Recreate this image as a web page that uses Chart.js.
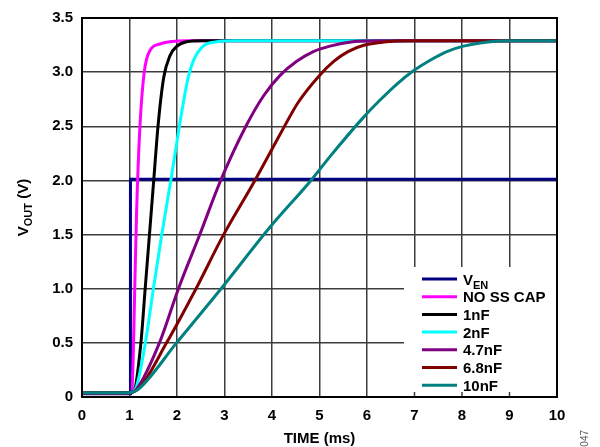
<!DOCTYPE html>
<html>
<head>
<meta charset="utf-8">
<script src="https://cdn.jsdelivr.net/npm/chart.js@4.4.0/dist/chart.umd.min.js"></script>
<style>
    html, body { margin: 0; padding: 0; background: #fff; }
</style>
</head>
<body>
<canvas id="soft-start-chart" width="600" height="447"></canvas>
<script>
// Ticks dos eixos
var timeTicks = [0, 1, 2, 3, 4, 5, 6, 7, 8, 9, 10];
var voltTicks = [0, 0.5, 1.0, 1.5, 2.0, 2.5, 3.0, 3.5];

var venTime = [0, 1.02, 1.02, 10];
var venVolt = [0.03, 0.03, 2.01, 2.01];

var noCapTime = [0, 1.0, 1.05, 1.08, 1.11, 1.15, 1.22, 1.31, 1.43, 1.64, 1.85, 2.2, 10];
var noCapVolt = [0.04, 0.04, 0.05, 0.4, 1.0, 1.72, 2.5, 3.0, 3.2, 3.26, 3.28, 3.29, 3.29];

var cap1Time = [0, 1.0, 1.1, 1.24, 1.33, 1.42, 1.51, 1.6, 1.72, 1.85, 2.0, 2.2, 2.5, 10];
var cap1Volt = [0.04, 0.04, 0.06, 0.5, 1.0, 1.5, 2.0, 2.5, 2.95, 3.15, 3.24, 3.28, 3.29, 3.29];

var cap2Time = [0, 1.0, 1.12, 1.33, 1.5, 1.68, 1.87, 2.05, 2.22, 2.34, 2.55, 2.84, 3.2, 10];
var cap2Volt = [0.04, 0.04, 0.07, 0.49, 0.99, 1.5, 2.0, 2.5, 2.92, 3.1, 3.24, 3.28, 3.29, 3.29];

var cap47Time = [0, 1.0, 1.16, 1.63, 2.03, 2.48, 2.92, 3.45, 3.82, 4.17, 4.52, 4.87, 5.22, 5.7, 6.2, 10];
var cap47Volt = [0.04, 0.04, 0.08, 0.5, 1.0, 1.5, 2.0, 2.5, 2.78, 2.97, 3.1, 3.19, 3.24, 3.28, 3.29, 3.29];

var cap68Time = [0, 1.0, 1.2, 1.78, 2.4, 2.97, 3.64, 4.2, 4.55, 5.0, 5.3, 5.6, 5.95, 6.4, 6.9, 10];
var cap68Volt = [0.04, 0.04, 0.08, 0.5, 1.0, 1.49, 2.0, 2.45, 2.72, 2.97, 3.1, 3.19, 3.25, 3.28, 3.29, 3.29];

var cap10Time = [0, 1.0, 1.18, 1.99, 2.91, 3.96, 4.82, 5.22, 5.92, 6.27, 6.63, 6.97, 7.33, 7.68, 8.03, 8.38, 9.0, 10];
var cap10Volt = [0.04, 0.04, 0.07, 0.5, 0.99, 1.57, 2.0, 2.22, 2.58, 2.74, 2.89, 3.01, 3.11, 3.19, 3.24, 3.27, 3.29, 3.29];

var seriesLabels = ['V_EN', 'NO SS CAP', '1nF', '2nF', '4.7nF', '6.8nF', '10nF'];
var seriesColors = ['#000080', '#ff00ff', '#000000', '#00ffff', '#800080', '#800000', '#008080'];

var FONT = '"Liberation Sans", Arial, sans-serif';

/**
 * Junta tempo e tensao em pontos {x, y}
 */
function toPoints(times, volts) {
    return times.map(function(t, i) {
        return { x: t, y: volts[i] };
    });
}

/**
 * Escreve texto com subscrito (parte depois do "_")
 */
function drawSubText(ctx, text, x, y, size) {
    var parts = text.split('_');
    ctx.textBaseline = 'alphabetic';
    ctx.textAlign = 'left';
    ctx.font = 'bold ' + size + 'px ' + FONT;
    ctx.fillText(parts[0], x, y);
    var w = ctx.measureText(parts[0]).width;
    if (parts.length > 1) {
        var sub = parts[1].split(' ');
        ctx.font = 'bold ' + Math.round(size * 0.7) + 'px ' + FONT;
        ctx.fillText(sub[0], x + w, y + 4);
        w += ctx.measureText(sub[0]).width;
        if (sub.length > 1) {
            ctx.font = 'bold ' + size + 'px ' + FONT;
            var rest = ' ' + sub.slice(1).join(' ');
            ctx.fillText(rest, x + w, y);
            w += ctx.measureText(rest).width;
        }
    }
    return w;
}

function measureSubText(ctx, text, size) {
    ctx.save();
    ctx.globalAlpha = 0;
    var w = drawSubText(ctx, text, 0, 0, size);
    ctx.restore();
    return w;
}

// Legenda, moldura e titulos desenhados a mao
var decorPlugin = {
    id: 'decor',
    afterDraw: function(chart) {
        var ctx = chart.ctx,
            area = chart.chartArea,
            xScale = chart.scales.x;

        // caixa da legenda
        var boxL = area.right - 153,
            boxT = area.bottom - 130;
        ctx.save();
        ctx.fillStyle = '#ffffff';
        ctx.fillRect(boxL, boxT, area.right - boxL, area.bottom - boxT);

        // pequenos ticks do eixo X dentro da legenda
        ctx.strokeStyle = '#3c3c3c';
        ctx.lineWidth = 1.5;
        timeTicks.forEach(function(t) {
            var px = xScale.getPixelForValue(t);
            if (px > boxL && px < area.right) {
                ctx.beginPath();
                ctx.moveTo(px, area.bottom);
                ctx.lineTo(px, area.bottom - 5);
                ctx.stroke();
            }
        });

        seriesLabels.forEach(function(label, i) {
            var cy = boxT + 12 + i * 17.7;
            ctx.strokeStyle = seriesColors[i];
            ctx.lineWidth = 3;
            ctx.beginPath();
            ctx.moveTo(boxL + 18, cy);
            ctx.lineTo(boxL + 53, cy);
            ctx.stroke();
            ctx.fillStyle = '#000';
            drawSubText(ctx, label, boxL + 59, cy + 5.5, 15);
        });

        // moldura
        ctx.strokeStyle = '#000';
        ctx.lineWidth = 2;
        ctx.strokeRect(area.left, area.top, area.right - area.left, area.bottom - area.top);

        // titulo do eixo X
        ctx.fillStyle = '#000';
        ctx.font = 'bold 15px ' + FONT;
        ctx.textAlign = 'center';
        ctx.textBaseline = 'alphabetic';
        ctx.fillText('TIME (ms)', (area.left + area.right) / 2, 443);

        // titulo do eixo Y (rotacionado)
        var yTitle = 'V_OUT (V)';
        var tw = measureSubText(ctx, yTitle, 15);
        ctx.translate(28, (area.top + area.bottom) / 2);
        ctx.rotate(-Math.PI / 2);
        drawSubText(ctx, yTitle, -tw / 2, 0, 15);
        ctx.restore();

        // codigo da figura, cortado na borda
        ctx.save();
        ctx.fillStyle = '#555';
        ctx.font = '10px ' + FONT;
        ctx.translate(588, 430);
        ctx.rotate(-Math.PI / 2);
        ctx.textAlign = 'right';
        ctx.textBaseline = 'alphabetic';
        ctx.fillText('-047', 0, 0);
        ctx.restore();
    }
};

var seriesData = [
    toPoints(venTime, venVolt),
    toPoints(noCapTime, noCapVolt),
    toPoints(cap1Time, cap1Volt),
    toPoints(cap2Time, cap2Volt),
    toPoints(cap47Time, cap47Volt),
    toPoints(cap68Time, cap68Volt),
    toPoints(cap10Time, cap10Volt)
];

var datasets = seriesData.map(function(points, i) {
    return {
        label: seriesLabels[i],
        data: points,
        borderColor: seriesColors[i],
        borderWidth: 3,
        pointRadius: 0,
        fill: false,
        tension: 0,
        cubicInterpolationMode: i === 0 ? 'default' : 'monotone',
        order: seriesData.length - i
    };
});

var chart = new Chart(document.getElementById('soft-start-chart'), {
    type: 'line',
    data: { datasets: datasets },
    options: {
        responsive: false,
        animation: false,
        devicePixelRatio: 1,
        layout: { padding: { top: 17, right: 43, left: 0, bottom: 0 } },
        plugins: {
            legend: { display: false },
            tooltip: { enabled: false }
        },
        scales: {
            x: {
                type: 'linear',
                min: 0,
                max: 10,
                afterBuildTicks: function(scale) {
                    scale.ticks = timeTicks.map(function(v) { return { value: v }; });
                },
                afterFit: function(scale) { scale.height = 50; },
                grid: { color: '#3c3c3c', lineWidth: 1.5, drawTicks: false },
                border: { color: '#000', width: 2 },
                ticks: {
                    padding: 10,
                    maxRotation: 0,
                    color: '#000',
                    font: { family: FONT, size: 15, weight: 'bold' },
                    callback: function(v) { return String(v); }
                }
            },
            y: {
                min: 0,
                max: 3.5,
                afterBuildTicks: function(scale) {
                    scale.ticks = voltTicks.map(function(v) { return { value: v }; });
                },
                afterFit: function(scale) { scale.width = 82; },
                grid: { color: '#3c3c3c', lineWidth: 1.5, drawTicks: false },
                border: { color: '#000', width: 2 },
                ticks: {
                    padding: 9,
                    color: '#000',
                    font: { family: FONT, size: 15, weight: 'bold' },
                    callback: function(v) { return v === 0 ? '0' : v.toFixed(1); }
                }
            }
        }
    },
    plugins: [decorPlugin]
});
</script>
</body>
</html>
